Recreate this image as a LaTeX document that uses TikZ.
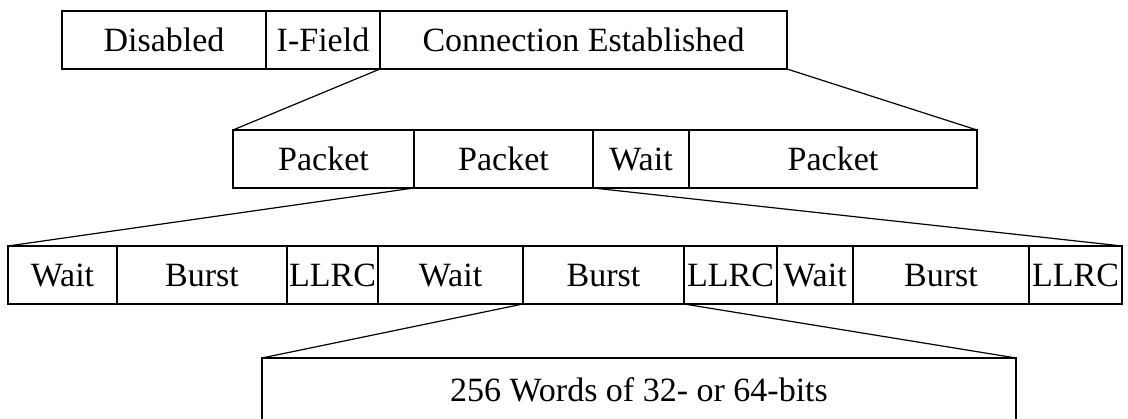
\documentclass[tikz,border=0pt]{standalone}
\usepackage{fontspec}
\setmainfont{Liberation Serif}
\usetikzlibrary{positioning}
\tikzstyle{field} = [rectangle,
                    draw=black,
                    line width=1.2pt,
                    inner sep=0pt,
                    outer sep=0pt,
                    minimum height=58pt,
                    text height=25pt,
                    text depth=2pt,
                    text centered,
                    font=\fontsize{34}{38}\selectfont]
\tikzstyle{link} = [draw=black, line width=1.2pt]

\begin{document}
\begin{tikzpicture}[x=1pt,y=-1pt,node distance=0pt]
\useasboundingbox (0,0) rectangle (1128,419);
\clip (0,0) rectangle (1128,419);
% frame
\node (dis) [field, minimum width=204pt, anchor=north west] at (62,11) {Disabled};
\node (ifl) [field, minimum width=114pt, right= of dis] {I-Field};
\node (con) [field, minimum width=407pt, right= of ifl] {Connection Established};
% packets
\node (pk1) [field, minimum width=181pt, anchor=north west] at (233,130) {Packet};
\node (pk2) [field, minimum width=179pt, right= of pk1] {Packet};
\node (wt1) [field, minimum width=96pt, right= of pk2] {Wait};
\node (pk3) [field, minimum width=288pt, right= of wt1] {Packet};
% bursts
\node (w1) [field, minimum width=109pt, anchor=north west] at (8,246) {Wait};
\node (b1) [field, minimum width=170pt, right= of w1] {Burst};
\node (l1) [field, minimum width=91pt, right= of b1] {LLRC};
\node (w2) [field, minimum width=145pt, right= of l1] {Wait};
\node (b2) [field, minimum width=161pt, right= of w2] {Burst};
\node (l2) [field, minimum width=93pt, right= of b2] {LLRC};
\node (w3) [field, minimum width=76pt, right= of l2] {Wait};
\node (b3) [field, minimum width=176pt, right= of w3] {Burst};
\node (l3) [field, minimum width=93pt, right= of b3] {LLRC};
% words
\node (words) [field, minimum width=754pt, minimum height=64pt, anchor=north west] at (262,358) {256 Words of 32- or 64-bits};

\draw [link] (con.south west) -- (pk1.north west);
\draw [link] (con.south east) -- (pk3.north east);
\draw [link] (pk2.south west) -- (w1.north west);
\draw [link] (pk2.south east) -- (l3.north east);
\draw [link] (b2.south west) -- (words.north west);
\draw [link] (b2.south east) -- (words.north east);
\end{tikzpicture}
\end{document}
